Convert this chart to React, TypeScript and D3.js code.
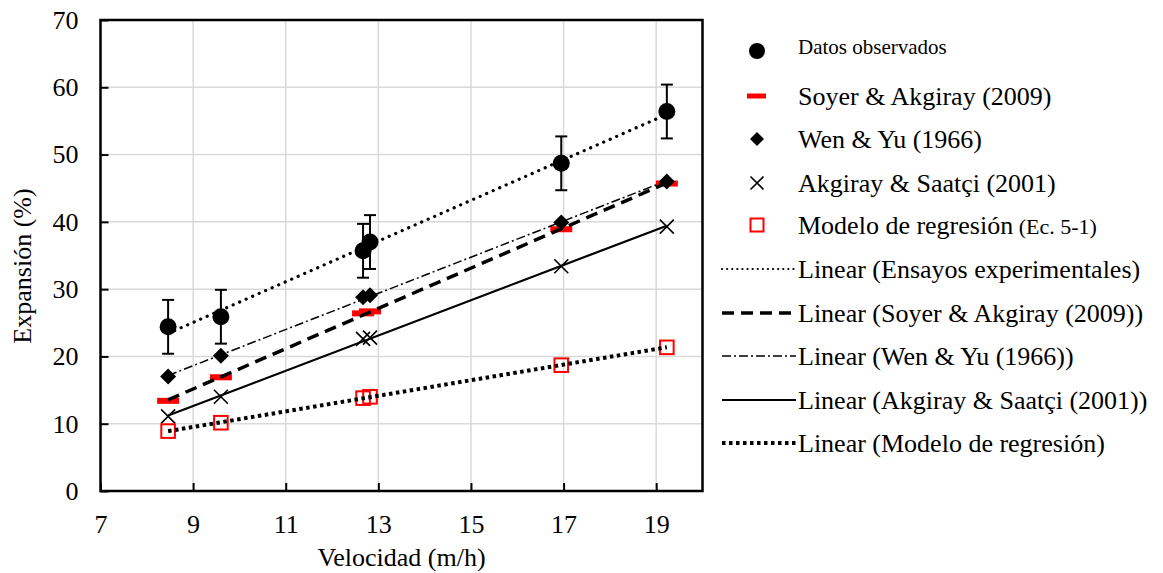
import React, { useEffect, useRef } from "react";
import * as d3 from "d3";

// velocidad (m/h) of each test
const velocidad = [8.46, 9.6, 12.67, 12.82, 16.95, 19.23];
// expansion (%) per series
const observados = [24.4, 25.9, 35.7, 37.0, 48.7, 56.4];
const errorObs = [4, 4, 4, 4, 4, 4];
const soyer = [13.4, 16.9, 26.4, 26.7, 38.9, 45.7];
const wenYu = [17.0, 20.1, 28.8, 29.1, 39.9, 46.0];
const akgiray = [11.1, 14.0, 22.6, 22.8, 33.4, 39.3];
const modelo = [8.9, 10.15, 13.8, 14.0, 18.7, 21.35];

const xTicks = [7, 9, 11, 13, 15, 17, 19];
const yTicks = [0, 10, 20, 30, 40, 50, 60, 70];

const legendMarkers = [
  "Datos observados",
  "Soyer & Akgiray (2009)",
  "Wen & Yu (1966)",
  "Akgiray & Saatçi (2001)",
  "Modelo de regresión",
];
const legendLines = [
  "Linear (Ensayos experimentales)",
  "Linear (Soyer & Akgiray (2009))",
  "Linear (Wen & Yu (1966))",
  "Linear (Akgiray & Saatçi (2001))",
  "Linear (Modelo de regresión)",
];

const W = 1163;
const H = 573;
const FONT = "Liberation Serif, Times New Roman, serif";

// trendline styles, same order as series
const lineStyles = [
  { dash: "0.1 7", width: 3.2, cap: "round" },
  { dash: "12 7", width: 3.5, cap: "butt" },
  { dash: "9 3 2 3", width: 1.5, cap: "butt" },
  { dash: null, width: 2.2, cap: "butt" },
  { dash: "3.5 3.5", width: 4, cap: "butt" },
];

function fit(xs, ys) {
  const mx = d3.mean(xs);
  const my = d3.mean(ys);
  let num = 0;
  let den = 0;
  xs.forEach((x, i) => {
    num += (x - mx) * (ys[i] - my);
    den += (x - mx) * (x - mx);
  });
  const b = num / den;
  return (x) => my + b * (x - mx);
}

export default function App() {
  const ref = useRef(null);

  useEffect(() => {
    document.body.style.margin = "0";
    const svg = d3.select(ref.current);
    svg.selectAll("*").remove();

    const x = d3.scaleLinear().domain([7, 20]).range([100.5, 702.5]);
    const y = d3.scaleLinear().domain([0, 70]).range([491, 20]);
    const [x0, x1] = x.range();
    const [y0, y1] = y.range();

    // grid
    const grid = svg.append("g").attr("stroke", "#d9d9d9").attr("stroke-width", 1.5);
    grid
      .selectAll("line.gx")
      .data(xTicks.slice(1))
      .join("line")
      .attr("class", "gx")
      .attr("x1", (d) => x(d))
      .attr("x2", (d) => x(d))
      .attr("y1", y1)
      .attr("y2", y0);
    grid
      .selectAll("line.gy")
      .data(yTicks.slice(1))
      .join("line")
      .attr("class", "gy")
      .attr("x1", x0)
      .attr("x2", x1)
      .attr("y1", (d) => y(d))
      .attr("y2", (d) => y(d));

    // axes
    const xAxis = svg
      .append("g")
      .attr("transform", `translate(0,${y0})`)
      .call(d3.axisBottom(x).tickValues(xTicks).tickSizeInner(-8).tickSizeOuter(0).tickPadding(24));
    const yAxis = svg
      .append("g")
      .attr("transform", `translate(${x0},0)`)
      .call(d3.axisLeft(y).tickValues(yTicks).tickSizeInner(-8).tickSizeOuter(0).tickPadding(22));
    [xAxis, yAxis].forEach((g) => {
      g.attr("font-family", FONT).attr("font-size", 26);
      g.select(".domain").remove();
      g.selectAll("line").attr("stroke", "#000").attr("stroke-width", 2);
      g.selectAll("text").attr("fill", "#000");
    });

    // frame
    svg
      .append("rect")
      .attr("x", x0)
      .attr("y", y1)
      .attr("width", x1 - x0)
      .attr("height", y0 - y1)
      .attr("fill", "none")
      .attr("stroke", "#000")
      .attr("stroke-width", 2.5);

    const pts = (ys) => velocidad.map((v, i) => [x(v), y(ys[i])]);

    // error bars
    const eb = svg.append("g").attr("stroke", "#000").attr("stroke-width", 2);
    velocidad.forEach((v, i) => {
      const cx = x(v);
      const top = y(observados[i] + errorObs[i]);
      const bot = y(observados[i] - errorObs[i]);
      eb.append("line").attr("x1", cx).attr("x2", cx).attr("y1", top).attr("y2", bot);
      eb.append("line").attr("x1", cx - 6).attr("x2", cx + 6).attr("y1", top).attr("y2", top);
      eb.append("line").attr("x1", cx - 6).attr("x2", cx + 6).attr("y1", bot).attr("y2", bot);
    });

    // markers
    const drawCircle = (g, cx, cy, r = 8.5) => g.append("circle").attr("cx", cx).attr("cy", cy).attr("r", r).attr("fill", "#000");
    const drawDash = (g, cx, cy) =>
      g.append("rect").attr("x", cx - 11).attr("y", cy - 3).attr("width", 22).attr("height", 6).attr("fill", "#ff0000");
    const drawDiamond = (g, cx, cy, s = 8) =>
      g
        .append("path")
        .attr("d", `M${cx},${cy - s}L${cx + s},${cy}L${cx},${cy + s}L${cx - s},${cy}Z`)
        .attr("fill", "#000");
    const drawX = (g, cx, cy, s = 7) =>
      g
        .append("path")
        .attr("d", `M${cx - s},${cy - s}L${cx + s},${cy + s}M${cx - s},${cy + s}L${cx + s},${cy - s}`)
        .attr("stroke", "#000")
        .attr("stroke-width", 1.6)
        .attr("fill", "none");
    const drawSquare = (g, cx, cy, s = 6.8) =>
      g
        .append("rect")
        .attr("x", cx - s)
        .attr("y", cy - s)
        .attr("width", 2 * s)
        .attr("height", 2 * s)
        .attr("fill", "none")
        .attr("stroke", "#ff0000")
        .attr("stroke-width", 2);
    const drawers = [drawCircle, drawDash, drawDiamond, drawX, drawSquare];
    const series = [observados, soyer, wenYu, akgiray, modelo];

    const mk = svg.append("g");
    series.forEach((s, k) => pts(s).forEach(([px, py]) => drawers[k](mk, px, py)));

    // linear trendlines
    const lineGen = d3.line();
    const xmin = d3.min(velocidad);
    const xmax = d3.max(velocidad);
    series.forEach((s, k) => {
      const f = fit(velocidad, s);
      const st = lineStyles[k];
      svg
        .append("path")
        .attr("d", lineGen([[x(xmin), y(f(xmin))], [x(xmax), y(f(xmax))]]))
        .attr("fill", "none")
        .attr("stroke", "#000")
        .attr("stroke-width", st.width)
        .attr("stroke-linecap", st.cap)
        .attr("stroke-dasharray", st.dash);
    });

    // axis titles
    svg
      .append("text")
      .attr("x", (x0 + x1) / 2)
      .attr("y", 566)
      .attr("text-anchor", "middle")
      .attr("font-family", FONT)
      .attr("font-size", 26)
      .text("Velocidad (m/h)");
    svg
      .append("text")
      .attr("transform", `translate(31,266) rotate(-90)`)
      .attr("text-anchor", "middle")
      .attr("font-family", FONT)
      .attr("font-size", 26)
      .text("Expansión (%)");

    // legend
    const lg = svg.append("g").attr("font-family", FONT);
    const mY = [47, 96, 139, 183, 225];
    legendMarkers.forEach((name, k) => {
      const cy = mY[k];
      if (k === 0) drawCircle(lg, 757, cy + 4, 8);
      else if (k === 1) lg.append("rect").attr("x", 747).attr("y", cy - 2.5).attr("width", 19).attr("height", 5).attr("fill", "#ff0000");
      else if (k === 2) drawDiamond(lg, 757, cy, 7);
      else if (k === 3) drawX(lg, 757, cy, 6.5);
      else drawSquare(lg, 757, cy, 6.5);
      const t = lg
        .append("text")
        .attr("x", 798)
        .attr("y", cy)
        .attr("dy", "0.35em")
        .attr("font-size", k === 0 ? 21 : 26)
        .text(name);
      if (k === 4) t.append("tspan").attr("font-size", 22).text(" (Ec. 5-1)");
    });
    const lY = [269, 313, 356, 400, 443];
    legendLines.forEach((name, k) => {
      const cy = lY[k];
      const st = lineStyles[k];
      lg.append("line")
        .attr("x1", 722)
        .attr("x2", 796)
        .attr("y1", cy)
        .attr("y2", cy)
        .attr("stroke", "#000")
        .attr("stroke-width", k === 0 ? 2.2 : st.width)
        .attr("stroke-linecap", st.cap)
        .attr("stroke-dasharray", k === 0 ? "0.1 5" : st.dash);
      lg.append("text").attr("x", 798).attr("y", cy).attr("dy", "0.35em").attr("font-size", 26).text(name);
    });
  }, []);

  return <svg ref={ref} width={W} height={H} style={{ display: "block", background: "#fff" }} />;
}
